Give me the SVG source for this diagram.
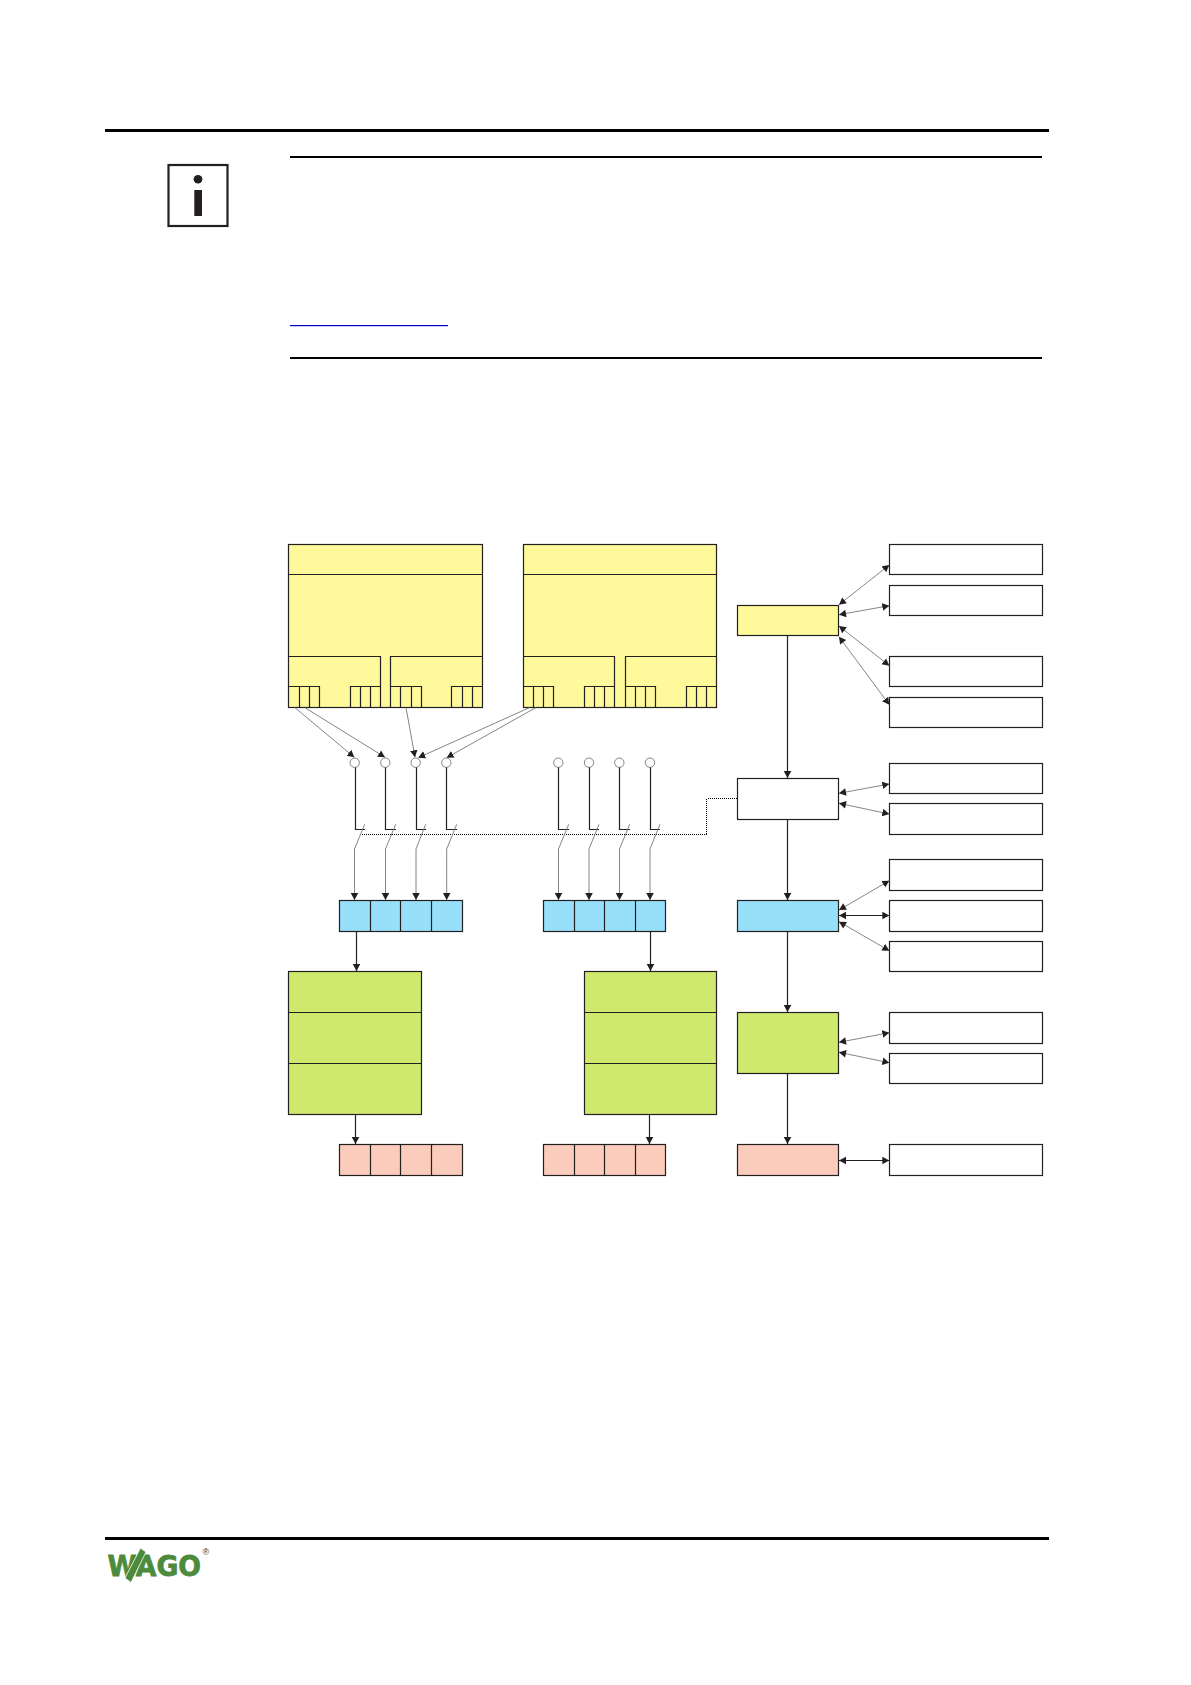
<svg xmlns="http://www.w3.org/2000/svg" width="1191" height="1685" viewBox="0 0 1191 1685">
<style>
.y{fill:#fef99b}.c{fill:#98dffa}.g{fill:#cfe96f}.r{fill:#fbcbbb}.w{fill:#fff}
.n rect,.n path{stroke:#231f20;stroke-width:1.2}
.n path{fill:none}
.a{stroke:#231f20;stroke-width:1.2;fill:none;marker-end:url(#h)}
.s{stroke:#777;stroke-width:.9;fill:none;marker-end:url(#h)}
.d{stroke:#777;stroke-width:.9;fill:none;marker-end:url(#h);marker-start:url(#hs)}
.e{stroke:#231f20;stroke-width:1.2;fill:none;marker-end:url(#h);marker-start:url(#hs)}
.l{stroke:#231f20;stroke-width:1.2;fill:none}
.o{stroke:#777;stroke-width:.9;fill:#fff}
.p{stroke:#000;stroke-width:1;stroke-dasharray:1 1;fill:none;shape-rendering:crispEdges}
</style>
<defs>
<marker id="h" markerUnits="userSpaceOnUse" markerWidth="9" markerHeight="9" refX="7" refY="4" orient="auto"><path d="M0 .2L7 4L0 7.8Z" fill="#231f20"/></marker>
<marker id="hs" markerUnits="userSpaceOnUse" markerWidth="9" markerHeight="9" refX="0" refY="4" orient="auto"><path d="M7 .2L0 4L7 7.8Z" fill="#231f20"/></marker>
</defs>
<g id="page-rules">
<rect x="105" y="129" width="944" height="3" fill="#000"/>
<rect x="290" y="156" width="752" height="2" fill="#000"/>
<rect x="290" y="357" width="752" height="2" fill="#000"/>
<rect x="290" y="325" width="158" height="1.2" fill="#0000c8"/>
<rect x="105" y="1537" width="944" height="3" fill="#000"/>
</g>
<g id="info-icon">
<rect x="168.5" y="165" width="59" height="61" fill="#fff" stroke="#231f20" stroke-width="2.2"/>
<ellipse cx="198" cy="179.3" rx="4.4" ry="4.2" fill="#231f20"/>
<rect x="194.3" y="190" width="7.7" height="26" fill="#231f20"/>
</g>
<g id="wago-logo">
<text x="107.5" y="1575.5" font-family="'DejaVu Sans',Arial,sans-serif" font-weight="700" font-size="28" textLength="93.5" lengthAdjust="spacingAndGlyphs" fill="#4c8a3c" stroke="#4c8a3c" stroke-width=".8">WAGO</text>
<polygon points="125,1578 131,1582.5 146,1552 140.5,1548" fill="#4c8a3c" stroke="#fff" stroke-width=".8"/>
<text x="202.5" y="1555" font-family="'Liberation Sans',Arial,sans-serif" font-size="9" fill="#333">®</text>
</g>
<g id="module-a" class="n">
<rect class="y" x="288.5" y="544.5" width="194" height="163"/>
<path d="M288.5 574.5H482.5M288.5 656.5H380.5V707.5M390.5 707.5V656.5H482.5M288.5 686.5H319.5V707.5M299.5 686.5V707.5M309.5 686.5V707.5M350.5 707.5V686.5H380.5M360.5 686.5V707.5M370.5 686.5V707.5M390.5 686.5H421.5V707.5M400.5 686.5V707.5M411.5 686.5V707.5M451.5 707.5V686.5H482.5M462.5 686.5V707.5M472.5 686.5V707.5"/>
</g>
<g id="module-b" class="n">
<rect class="y" x="523.5" y="544.5" width="193" height="163"/>
<path d="M523.5 574.5H716.5M523.5 656.5H614.5V707.5M625.5 707.5V656.5H716.5M523.5 686.5H553.5V707.5M533.5 686.5V707.5M543.5 686.5V707.5M584.5 707.5V686.5H614.5M594.5 686.5V707.5M604.5 686.5V707.5M625.5 686.5H655.5V707.5M635.5 686.5V707.5M645.5 686.5V707.5M686.5 707.5V686.5H716.5M696.5 686.5V707.5M706.5 686.5V707.5"/>
</g>
<g id="inputs-a" class="n">
<rect class="c" x="339.5" y="900.5" width="123" height="31"/>
<path d="M370.5 900.5V931.5M400.5 900.5V931.5M431.5 900.5V931.5"/>
</g>
<g id="inputs-b" class="n">
<rect class="c" x="543.5" y="900.5" width="122" height="31"/>
<path d="M574.5 900.5V931.5M604.5 900.5V931.5M635.5 900.5V931.5"/>
</g>
<g id="logic-a" class="n">
<rect class="g" x="288.5" y="971.5" width="133" height="143"/>
<path d="M288.5 1012.5H421.5M288.5 1063.5H421.5"/>
</g>
<g id="logic-b" class="n">
<rect class="g" x="584.5" y="971.5" width="132" height="143"/>
<path d="M584.5 1012.5H716.5M584.5 1063.5H716.5"/>
</g>
<g id="outputs-a" class="n">
<rect class="r" x="339.5" y="1144.5" width="123" height="31"/>
<path d="M370.5 1144.5V1175.5M400.5 1144.5V1175.5M431.5 1144.5V1175.5"/>
</g>
<g id="outputs-b" class="n">
<rect class="r" x="543.5" y="1144.5" width="122" height="31"/>
<path d="M574.5 1144.5V1175.5M604.5 1144.5V1175.5M635.5 1144.5V1175.5"/>
</g>
<g id="stage-1" class="n"><rect class="y" x="737.5" y="605.5" width="101" height="30"/></g>
<g id="stage-2" class="n"><rect class="w" x="737.5" y="778.5" width="101" height="41"/></g>
<g id="stage-3" class="n"><rect class="c" x="737.5" y="900.5" width="101" height="31"/></g>
<g id="stage-4" class="n"><rect class="g" x="737.5" y="1012.5" width="101" height="61"/></g>
<g id="stage-5" class="n"><rect class="r" x="737.5" y="1144.5" width="101" height="31"/></g>
<g id="side-1" class="n"><rect class="w" x="889.5" y="544.5" width="153" height="30"/></g>
<g id="side-2" class="n"><rect class="w" x="889.5" y="585.5" width="153" height="30"/></g>
<g id="side-3" class="n"><rect class="w" x="889.5" y="656.5" width="153" height="30"/></g>
<g id="side-4" class="n"><rect class="w" x="889.5" y="697.5" width="153" height="30"/></g>
<g id="side-5" class="n"><rect class="w" x="889.5" y="763.5" width="153" height="30"/></g>
<g id="side-6" class="n"><rect class="w" x="889.5" y="803.5" width="153" height="31"/></g>
<g id="side-7" class="n"><rect class="w" x="889.5" y="859.5" width="153" height="31"/></g>
<g id="side-8" class="n"><rect class="w" x="889.5" y="900.5" width="153" height="31"/></g>
<g id="side-9" class="n"><rect class="w" x="889.5" y="941.5" width="153" height="30"/></g>
<g id="side-10" class="n"><rect class="w" x="889.5" y="1012.5" width="153" height="31"/></g>
<g id="side-11" class="n"><rect class="w" x="889.5" y="1053.5" width="153" height="30"/></g>
<g id="side-12" class="n"><rect class="w" x="889.5" y="1144.5" width="153" height="31"/></g>
<g id="connectors">
<path class="s" d="M295 707.7L354.3 757.3"/>
<path class="s" d="M305 707.7L385 757.3"/>
<path class="s" d="M406 707.7L415 757.3"/>
<path class="s" d="M529.3 707.7L418.3 757.7"/>
<path class="s" d="M535.7 707.7L446.7 757.7"/>
<g>
<circle class="o" cx="354.7" cy="762.7" r="4.7"/><circle class="o" cx="385.3" cy="762.7" r="4.7"/><circle class="o" cx="415.7" cy="762.7" r="4.7"/><circle class="o" cx="446.3" cy="762.7" r="4.7"/>
<circle class="o" cx="558.3" cy="762.7" r="4.7"/><circle class="o" cx="589" cy="762.7" r="4.7"/><circle class="o" cx="619.3" cy="762.7" r="4.7"/><circle class="o" cx="650" cy="762.7" r="4.7"/>
</g>
<path class="l" d="M355.5 767.5V829.5H365M385.5 767.5V829.5H396M416.5 767.5V829.5H426M446.5 767.5V829.5H457M558.5 767.5V829.5H569M589.5 767.5V829.5H599M619.5 767.5V829.5H630M650.5 767.5V829.5H660"/>
<path class="p" d="M361.5 834.5H706.5V798.5H737.5"/>
<path class="s" d="M364.7 824.3L354.5 849V900"/>
<path class="s" d="M395.7 824.3L385.5 849V900"/>
<path class="s" d="M425.7 824.3L416 849V900"/>
<path class="s" d="M456.7 824.3L446.7 849V900"/>
<path class="s" d="M568.7 824.3L558.5 849V900"/>
<path class="s" d="M599 824.3L589 849V900"/>
<path class="s" d="M629.7 824.3L619.5 849V900"/>
<path class="s" d="M660 824.3L650 849V900"/>
<path class="a" d="M356.5 931.5V971"/>
<path class="a" d="M650.5 931.5V971"/>
<path class="a" d="M355.5 1114.5V1144"/>
<path class="a" d="M649.5 1114.5V1144"/>
<path class="a" d="M787.5 635.5V778"/>
<path class="a" d="M787.5 819.5V900"/>
<path class="a" d="M787.5 931.5V1012"/>
<path class="a" d="M787.5 1073.5V1144"/>
<path class="d" d="M839 604.7L889.3 565"/>
<path class="d" d="M839 614.7L889.3 605.7"/>
<path class="d" d="M839 626L889.3 665.7"/>
<path class="d" d="M839 636.7L889.3 704.7"/>
<path class="d" d="M839 793.3L889.3 784"/>
<path class="d" d="M839 803.3L889.3 814"/>
<path class="d" d="M839 910L889.3 880.7"/>
<path class="e" d="M839 915.5H889.3"/>
<path class="d" d="M839 921.7L889.3 950.7"/>
<path class="d" d="M839 1042.3L889.3 1032.7"/>
<path class="d" d="M839 1052.3L889.3 1062.7"/>
<path class="e" d="M839 1160.5H889.3"/>
</g>
</svg>
